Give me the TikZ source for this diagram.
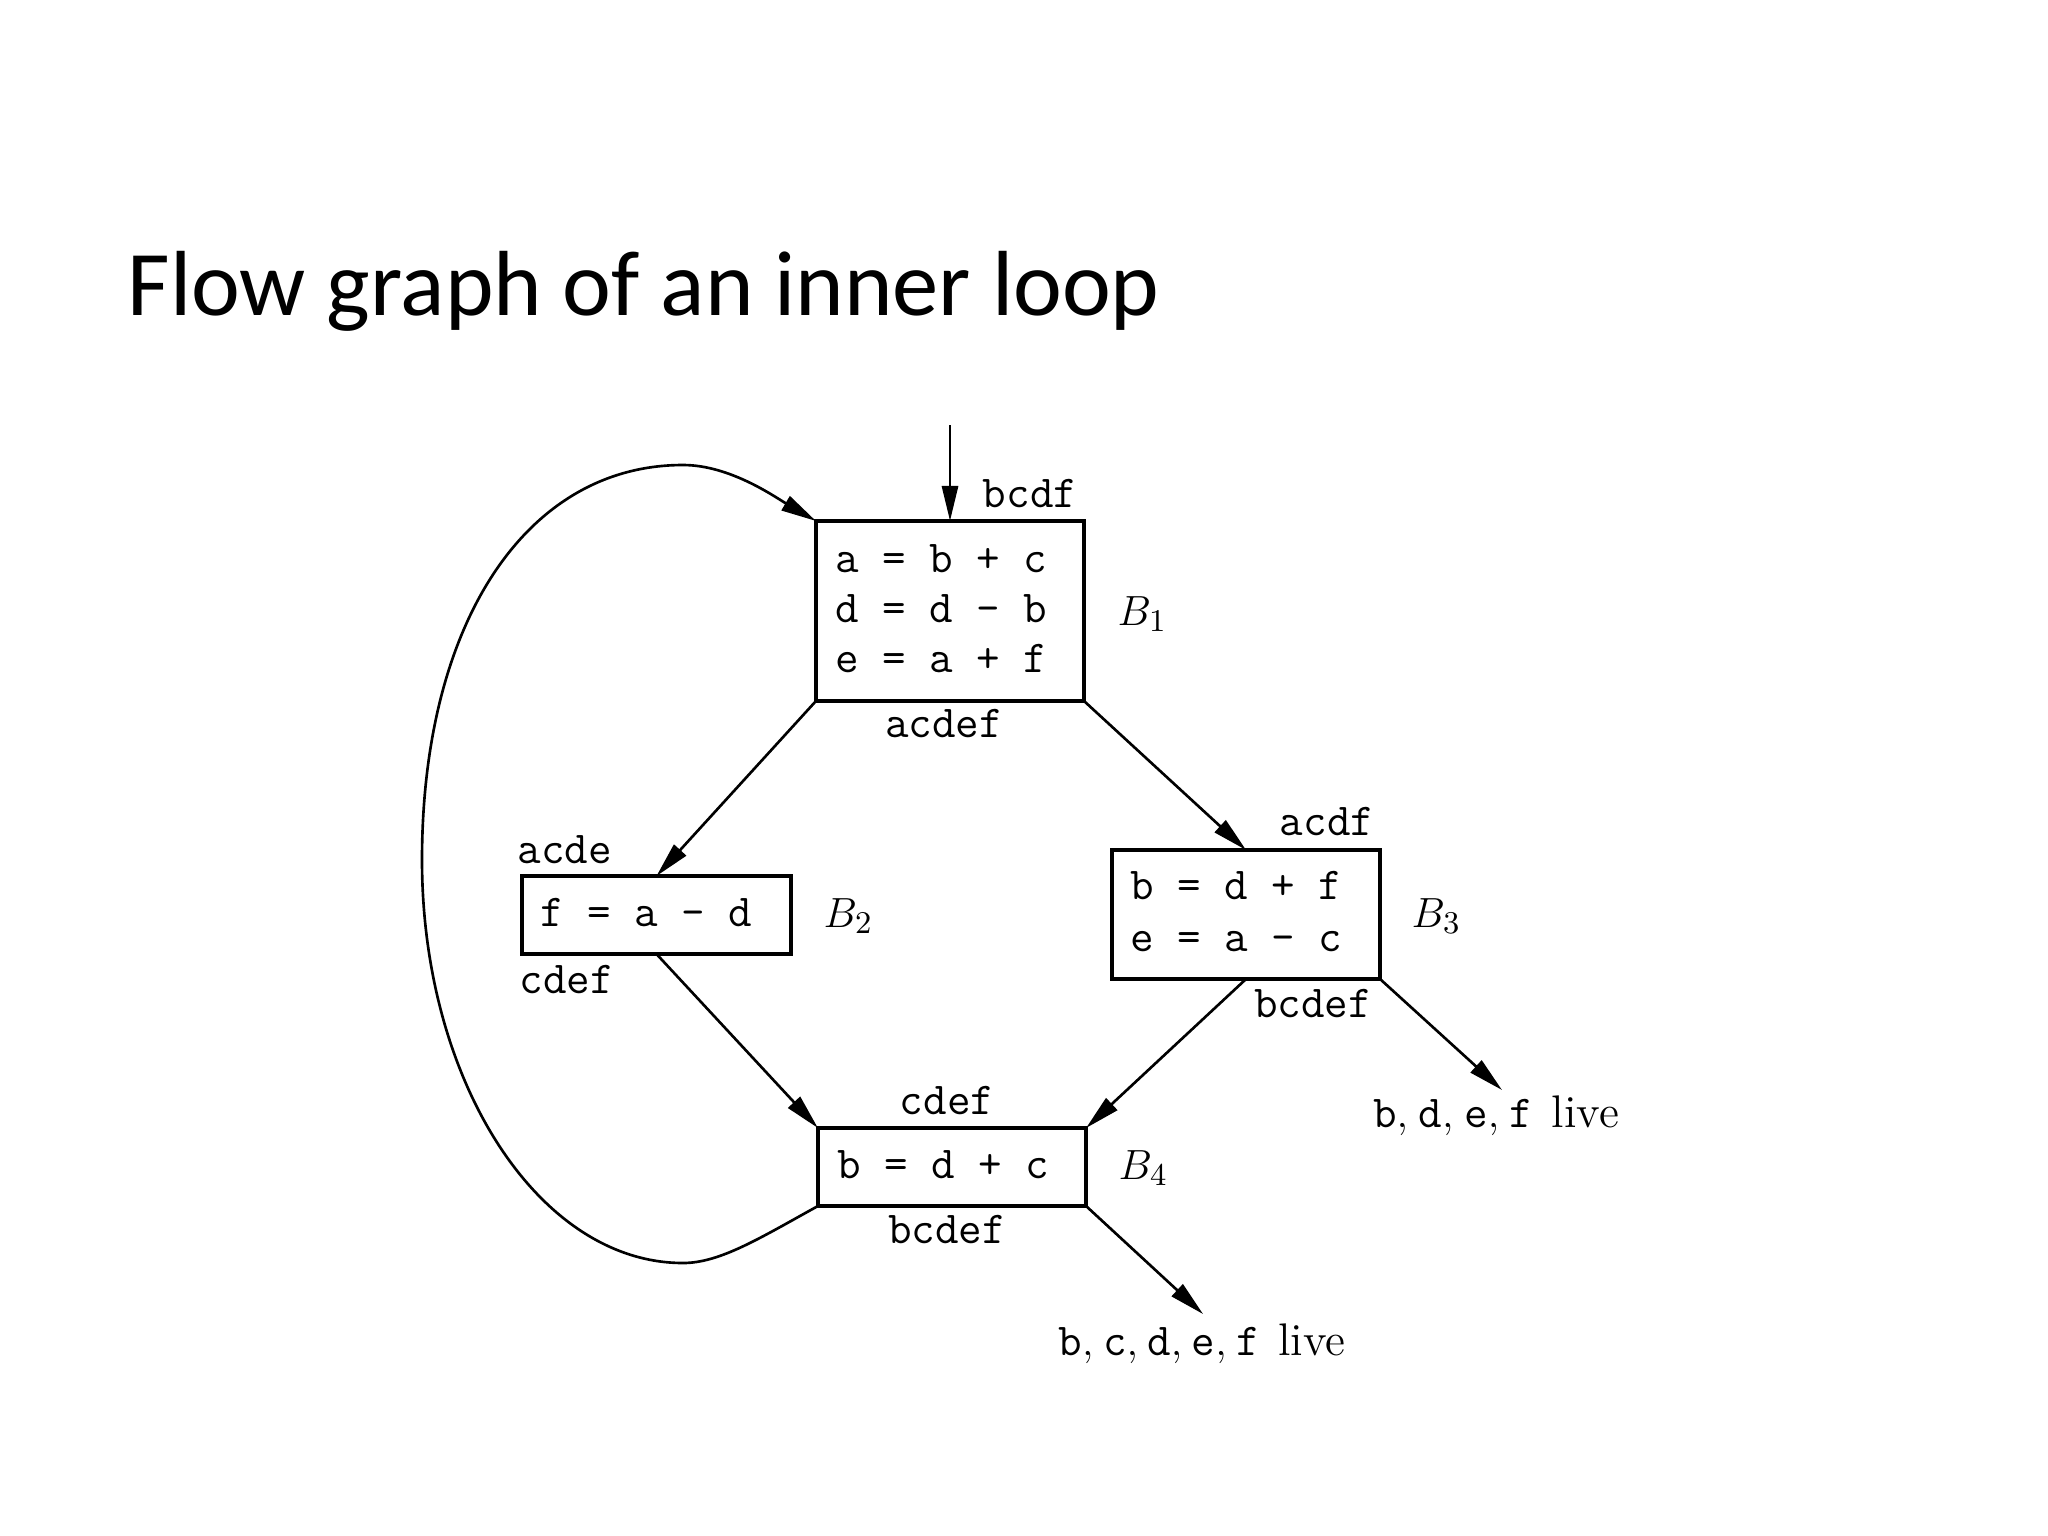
\documentclass[tikz,border=0pt]{standalone}
\usepackage{fontspec}
\newfontfamily\titlefont{Carlito}
\usetikzlibrary{arrows.meta}
\tikzset{
  blk/.style={draw, line width=0.95pt, inner sep=0pt, outer sep=0pt},
  code/.style={font=\fontsize{13}{14}\selectfont\ttfamily, inner sep=0pt, anchor=base west},
  lab/.style={font=\fontsize{13}{14}\selectfont\ttfamily, inner sep=0pt, anchor=base},
  bname/.style={font=\fontsize{13}{14}\selectfont, inner sep=0pt, anchor=base west},
  livelab/.style={font=\fontsize{13}{14}\selectfont, inner sep=0pt, anchor=base},
  flow/.style={line width=0.75pt, -{Triangle[length=10pt,width=4.6pt]}},
}
\begin{document}
\begin{tikzpicture}[x=0.01cm, y=-0.01cm]
\useasboundingbox (0,0) rectangle (2048,1536);

% title
\node[anchor=base west, inner sep=0pt, font=\titlefont\fontsize{26.3}{28}\selectfont] (title) at (127,315) {Flow graph of an inner loop};

% blocks
\node[blk, minimum width=2.68cm, minimum height=1.80cm] (B1) at (950,611) {};
\node[blk, minimum width=2.69cm, minimum height=0.78cm] (B2) at (656.5,915) {};
\node[blk, minimum width=2.68cm, minimum height=1.29cm] (B3) at (1246,914.5) {};
\node[blk, minimum width=2.68cm, minimum height=0.78cm] (B4) at (952,1167) {};

% block contents
\node[code] (B1a) at ([shift={(19,52)}]B1.north west) {a = b + c};
\node[code] (B1b) at ([shift={(19,102)}]B1.north west) {d = d - b};
\node[code] (B1c) at ([shift={(19,152)}]B1.north west) {e = a + f};
\node[code] (B2a) at ([shift={(18,51)}]B2.north west) {f = a - d};
\node[code] (B3a) at ([shift={(18,50)}]B3.north west) {b = d + f};
\node[code] (B3b) at ([shift={(18,102)}]B3.north west) {e = a - c};
\node[code] (B4a) at ([shift={(19,51)}]B4.north west) {b = d + c};

% block names
\node[bname] (nB1) at (1117,625) {$B_1$};
\node[bname] (nB2) at (823,927) {$B_2$};
\node[bname] (nB3) at (1411,927) {$B_3$};
\node[bname] (nB4) at (1118,1179) {$B_4$};

% live-variable labels
\node[lab] (bcdf) at (1030,507) {bcdf};
\node[lab] (acdef) at (944,737) {acdef};
\node[lab, anchor=base west] (acde) at (517,863) {acde};
\node[lab, anchor=base west] (cdefB2) at (519,993) {cdef};
\node[lab] (acdf) at (1327,835) {acdf};
\node[lab] (bcdefB3) at (1313,1017) {bcdef};
\node[lab] (cdefB4) at (947,1114) {cdef};
\node[lab] (bcdefB4) at (947,1243) {bcdef};
\node[livelab] (live3) at (1496,1127) {$\mathtt{b},\mskip1.5mu \mathtt{d},\mskip1.5mu \mathtt{e},\mskip1.5mu \mathtt{f}$\ \kern1pt live};
\node[livelab] (live4) at (1202,1355) {$\mathtt{b},\mskip1mu \mathtt{c},\mskip1mu \mathtt{d},\mskip1mu \mathtt{e},\mskip1mu \mathtt{f}$\ \kern1pt live};

% free ends
\coordinate (entry) at (950,425);
\coordinate (exit3) at (1502,1090);
\coordinate (exit4) at (1203,1314);

% edges
\draw[flow] (entry) -- (B1.north);
\draw[flow] (B1.south west) -- (B2.north);
\draw[flow] (B1.south east) -- (B3.north);
\draw[flow] (B2.south) -- (B4.north west);
\draw[flow] (B3.south) -- (B4.north east);
\draw[flow] (B3.south east) -- (exit3);
\draw[flow] (B4.south east) -- (exit4);
\draw[flow] (B4.south west) .. controls (760,1238) and (720,1263) .. (683,1263)
  .. controls (539,1263) and (422,1082) .. (422,860)
  .. controls (422,623) and (526,465) .. (683,465)
  .. controls (730,465) and (775,497) .. (B1.north west);
\end{tikzpicture}
\end{document}
